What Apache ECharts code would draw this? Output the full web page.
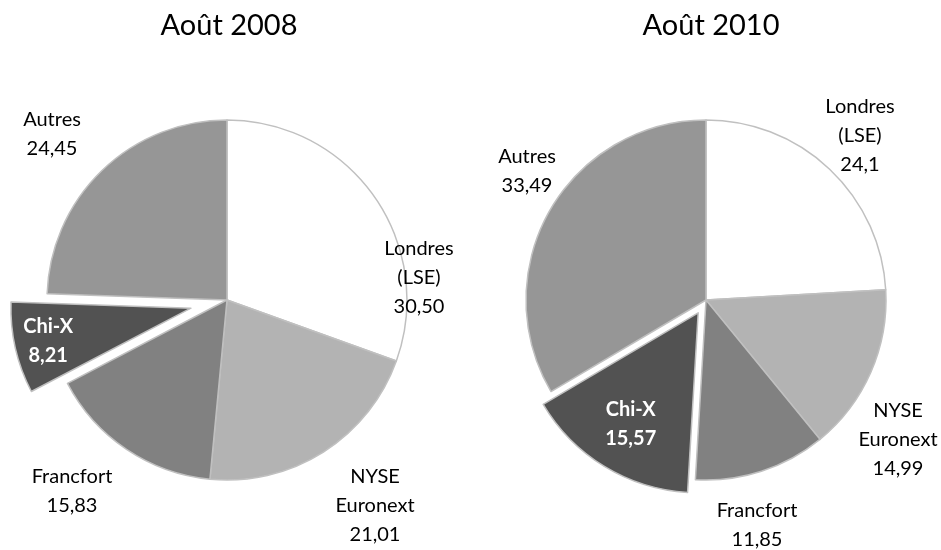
<!DOCTYPE html>
<html>
<head>
<meta charset="utf-8">
<script src="https://cdn.jsdelivr.net/npm/echarts@6/dist/echarts.min.js"></script>
<style>
  html, body { margin: 0; padding: 0; background: #fff; }
  #chart { width: 941px; height: 550px; }
</style>
</head>
<body>
<div id="chart"></div>
<script>
// parts de marché des places boursières (%)
const categories = ["Londres (LSE)", "NYSE Euronext", "Francfort", "Chi-X", "Autres"];
const values2008 = [30.5, 21.01, 15.83, 8.21, 24.45];
const values2010 = [24.1, 14.99, 11.85, 15.57, 33.49];
const titles = ["Août 2008", "Août 2010"];

const colors = ["#ffffff", "#b3b3b3", "#818181", "#525252", "#969696"];
const FONT = "Lato";

// positions des étiquettes extérieures (centre du bloc de texte)
const labelPos = [
  [[419, 278], [375, 506], [72, 491], null, [52, 134]],
  [[860, 136], [898, 440], [757, 525], null, [527, 171]],
];
// étiquette Chi-X (à l'intérieur) : décalage horizontal par padding, vertical par une ligne vide
const chiPadding = [[0, 104, 0, 0], [0, 38, 0, 0]];
const chiShiftY = [24, 64];

const chart = echarts.init(document.getElementById("chart"));

function makeData(idx, values, fmt) {
  return categories.map((name, i) => {
    const item = {
      name,
      value: values[i],
      selected: name === "Chi-X",
      itemStyle: { color: colors[i] },
      label: { color: "#000000" },
    };
    if (name === "Chi-X") {
      item.label = {
        position: "inside",
        padding: chiPadding[idx],
        formatter: (p) => "{sp| }\n{t|" + p.name + "}\n{t|" + fmt(p.value) + "}",
        rich: {
          sp: { fontSize: 10, lineHeight: chiShiftY[idx] },
          t: {
            fontFamily: FONT,
            fontSize: 20,
            lineHeight: 29,
            color: "#ffffff",
            fontWeight: "bold",
            align: "center",
          },
        },
      };
    }
    return item;
  });
}

function makeSeries(idx, values, center, offset, fmt) {
  return {
    type: "pie",
    center: center,
    radius: 180,
    startAngle: 90,
    clockwise: true,
    selectedMode: "single",
    selectedOffset: offset,
    avoidLabelOverlap: false,
    itemStyle: { borderColor: "#c0c0c0", borderWidth: 1.5 },
    label: {
      show: true,
      position: "outside",
      fontFamily: FONT,
      fontSize: 20,
      lineHeight: 29,
      align: "center",
      formatter: (p) => p.name.replace(" ", "\n") + "\n" + fmt(p.value),
    },
    labelLine: { show: false },
    labelLayout: (p) => {
      const pos = labelPos[idx][p.dataIndex];
      if (!pos) return {};
      return { x: pos[0], y: pos[1], align: "center", verticalAlign: "middle" };
    },
    emphasis: { disabled: true },
    data: makeData(idx, values, fmt),
  };
}

const fmt2008 = (v) => v.toFixed(2).replace(".", ",");
const fmt2010 = (v) => String(v).replace(".", ",");

chart.setOption({
  animation: false,
  title: [
    {
      text: titles[0],
      left: 224,
      top: 6,
      textAlign: "center",
      textStyle: { fontFamily: FONT, fontSize: 29, fontWeight: "normal", color: "#000" },
    },
    {
      text: titles[1],
      left: 706,
      top: 6,
      textAlign: "center",
      textStyle: { fontFamily: FONT, fontSize: 29, fontWeight: "normal", color: "#000" },
    },
  ],
  series: [
    makeSeries(0, values2008, [227, 300], 37, fmt2008),
    makeSeries(1, values2010, [706, 300], 15, fmt2010),
  ],
});
</script>
</body>
</html>
